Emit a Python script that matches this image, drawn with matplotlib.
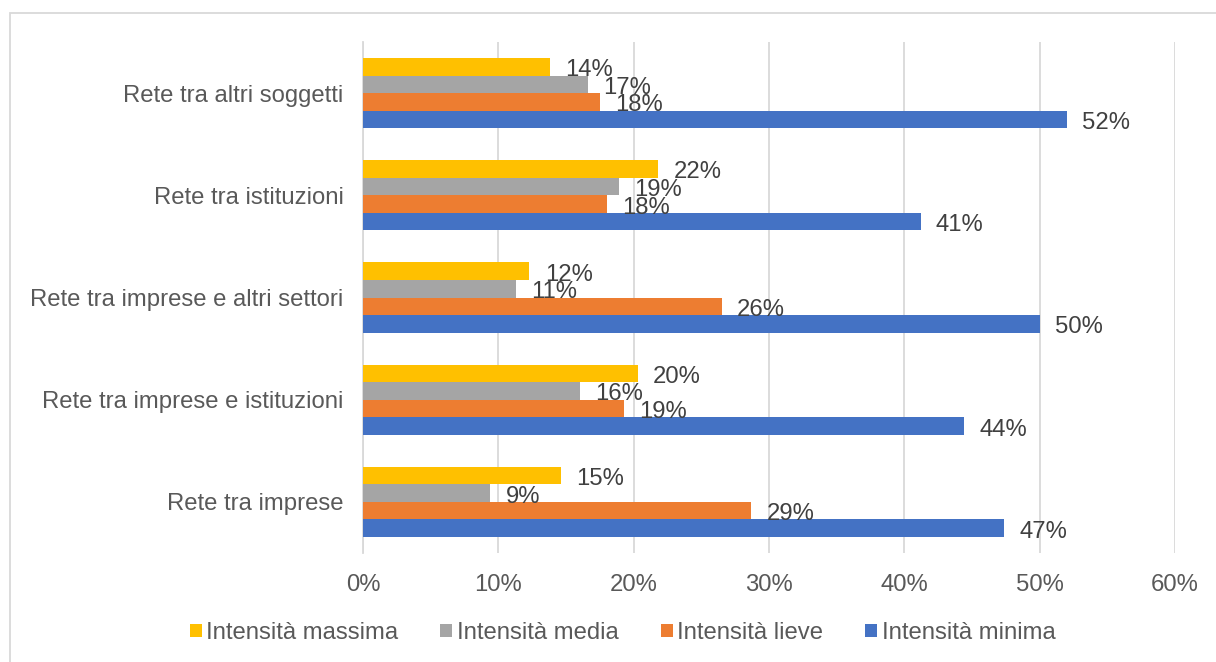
import numpy as np
import matplotlib
matplotlib.use("Agg")
import matplotlib.pyplot as plt
from matplotlib.patches import Rectangle

plt.rcParams['font.family'] = ['Liberation Sans', 'DejaVu Sans']

# categories, bottom to top as drawn
categories = ["Rete tra imprese",
              "Rete tra imprese e istituzioni",
              "Rete tra imprese e altri settori",
              "Rete tra istituzioni",
              "Rete tra altri soggetti"]

# values in %, same order as categories
minima = [47.4, 44.4, 50.0, 41.2, 52.0]
lieve = [28.7, 19.3, 26.5, 18.0, 17.5]
media = [9.4, 16.0, 11.3, 18.9, 16.6]
massima = [14.6, 20.3, 12.3, 21.8, 13.8]

series_names = ["Intensità minima", "Intensità lieve", "Intensità media", "Intensità massima"]
series_vals = [minima, lieve, media, massima]
colors = ["#4472C4", "#ED7D31", "#A5A5A5", "#FFC000"]

x_ticks = [0, 10, 20, 30, 40, 50, 60]

fs = 17.2
label_col = "#404040"
tick_col = "#595959"
grid_col = "#D9D9D9"

fig = plt.figure(figsize=(12.16, 6.62), dpi=100)
ax = fig.add_axes([363/1216, 1 - 553/662, (1175 - 363)/1216, (553 - 42)/662])

y = np.arange(len(categories))
h = 0.172
handles = []
for i, (name, vals, c) in enumerate(zip(series_names, series_vals, colors)):
    off = (i - 1.5) * h
    bars = ax.barh(y + off, vals, height=h, color=c, label=name, zorder=3)
    anns = ax.bar_label(bars, labels=["%d%%" % round(v) for v in vals], padding=11,
                        fontsize=fs, color=label_col, zorder=4)
    # nudge labels down a little, like the original
    for a in anns:
        a.xyann = (11, -2.5)
    handles.append(bars)

ax.set_xlim(0, 60)
ax.set_ylim(-0.5, len(categories) - 0.5)
ax.set_xticks(x_ticks)
ax.set_xticklabels(["%d%%" % t for t in x_ticks])
ax.set_yticks(y)
ax.set_yticklabels(categories)
ax.tick_params(axis='x', length=0, pad=15, labelsize=fs, labelcolor=tick_col)
ax.tick_params(axis='y', length=0, pad=14, labelsize=fs, labelcolor=tick_col)
ax.grid(axis='x', color=grid_col, lw=1.3, zorder=0)
for s in ['top', 'right', 'bottom']:
    ax.spines[s].set_visible(False)
ax.spines['left'].set_color(grid_col)
ax.spines['left'].set_linewidth(1.3)

# legend in reverse order (as in the original)
leg = fig.legend(handles[::-1], series_names[::-1], loc='center', ncol=4,
                 bbox_to_anchor=(0.512, 1 - 633/662), frameon=False,
                 fontsize=fs, handlelength=0.5, handleheight=0.5,
                 handletextpad=0.2, columnspacing=1.75, labelcolor=tick_col)

# chart area border
fig.patches.append(Rectangle((10/1216, -0.1), 1.2, 1 - 13/662 + 0.1,
                             transform=fig.transFigure, fill=False,
                             edgecolor=grid_col, lw=1.3))

fig.savefig("out.png", dpi=100)
